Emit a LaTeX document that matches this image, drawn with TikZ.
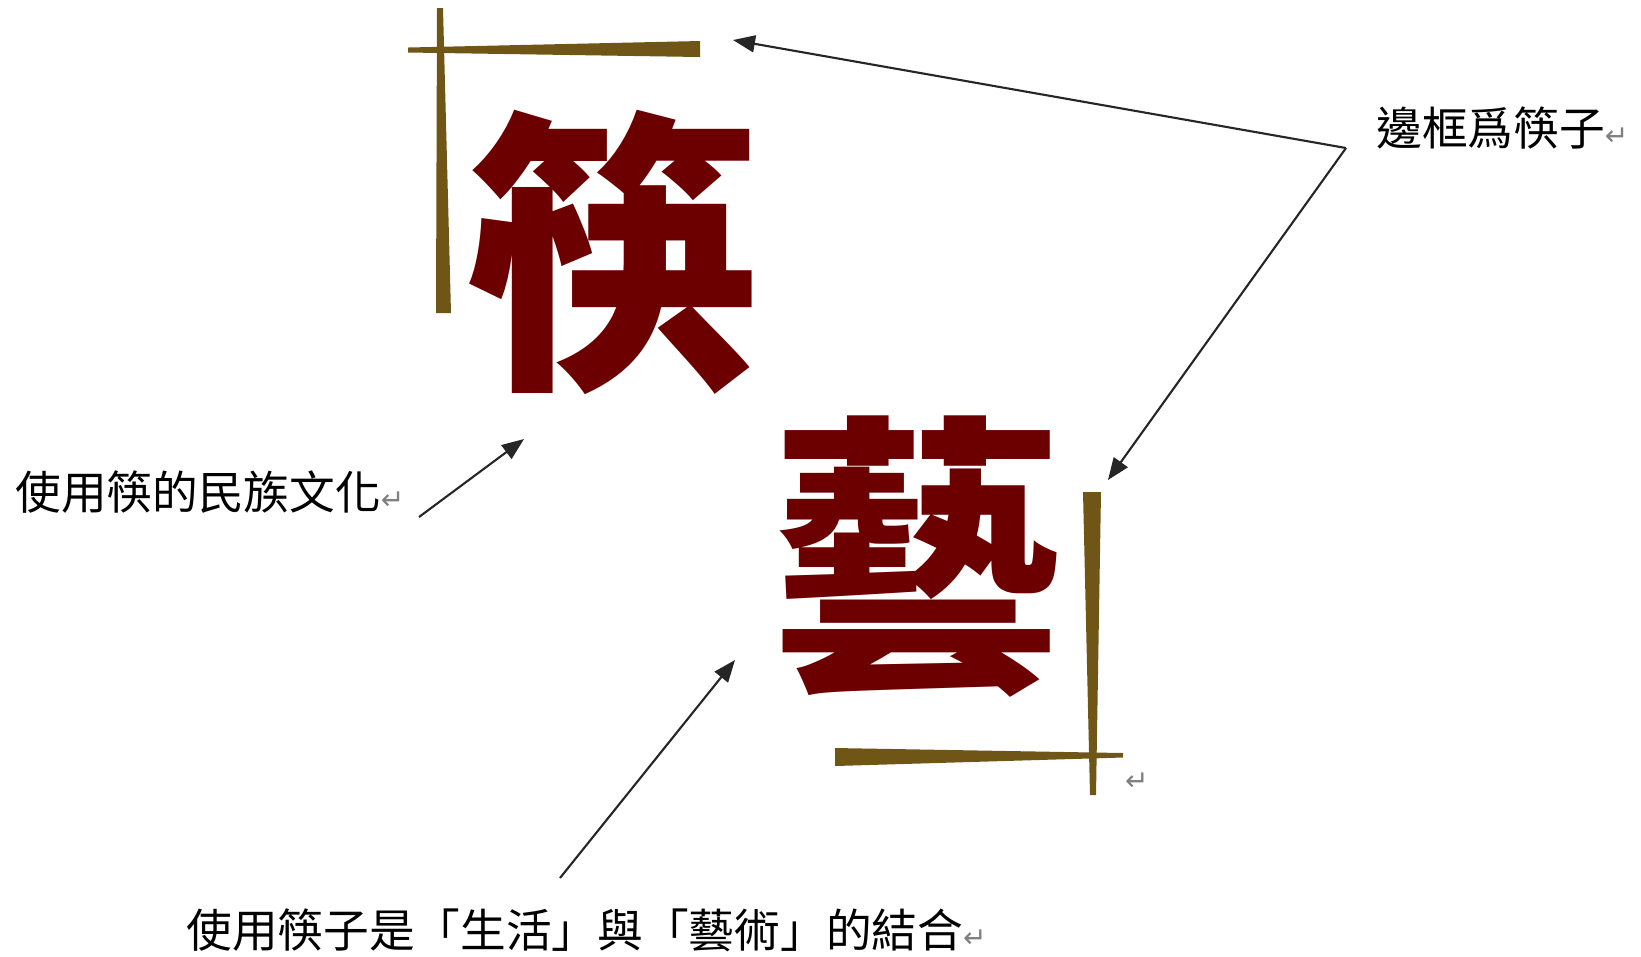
\documentclass[tikz,border=0pt]{standalone}
\usepackage{fontspec}
\usepackage{xcolor}
\usetikzlibrary{arrows.meta}
\newfontfamily\cjk{Noto Sans CJK TC}
\newfontfamily\symb{DejaVu Sans}
\definecolor{stick}{RGB}{112,86,22}
\definecolor{ink}{RGB}{108,0,0}
\newcommand{\ret}{{\symb\color{gray}\fontsize{8}{8}\selectfont ↵}}

\begin{document}
\begin{tikzpicture}[x=0.1mm, y=-0.1mm, thick,
        note/.style = {font=\cjk\fontsize{13}{13}\selectfont, inner sep=0pt},
        glyph/.style = {font=\cjk\bfseries\fontsize{84}{84}\selectfont, text=ink, inner sep=0pt},
        pointer/.style = {-{Triangle[length=2.2mm, width=1.7mm]}, line width=0.6pt, black!85}]
    \useasboundingbox (0,0) rectangle (1641,956);

    % chopsticks
    \fill[stick] (437,8) -- (443,8) -- (451,313) -- (436,313) -- cycle;
    \fill[stick] (408,47.5) -- (700,41) -- (700,57) -- (408,52.5) -- cycle;
    \fill[stick] (1083,492) -- (1101,492) -- (1096,795) -- (1090,795) -- cycle;
    \fill[stick] (835,748) -- (1123,753) -- (1123,757.5) -- (835,766) -- cycle;
    \node[inner sep=0pt] (endmark) at (1137,782) {\ret};

    \node[glyph] (kuai) at (612,252) {筷};
    \node[glyph] (yi) at (917,557) {藝};

    \node[note, anchor=west] (frame) at (1375,128) {邊框爲筷子\ret};
    \node[note, anchor=west] (culture) at (14,492) {使用筷的民族文化\ret};
    \node[note, anchor=west] (union) at (185,930) {使用筷子是「生活」與「藝術」的結合\ret};

    \coordinate (fork) at (1346,148);
    \coordinate (topend) at (733,40);
    \coordinate (sideend) at (1108,480);
    \coordinate (cultstart) at (419,517);
    \coordinate (culttip) at (524,439);
    \coordinate (unionstart) at (560,878);
    \coordinate (uniontip) at (735,660);

    \draw[pointer] (fork) -- (topend);
    \draw[pointer] (fork) -- (sideend);
    \draw[pointer] (cultstart) -- (culttip);
    \draw[pointer] (unionstart) -- (uniontip);

\end{tikzpicture}
\end{document}
